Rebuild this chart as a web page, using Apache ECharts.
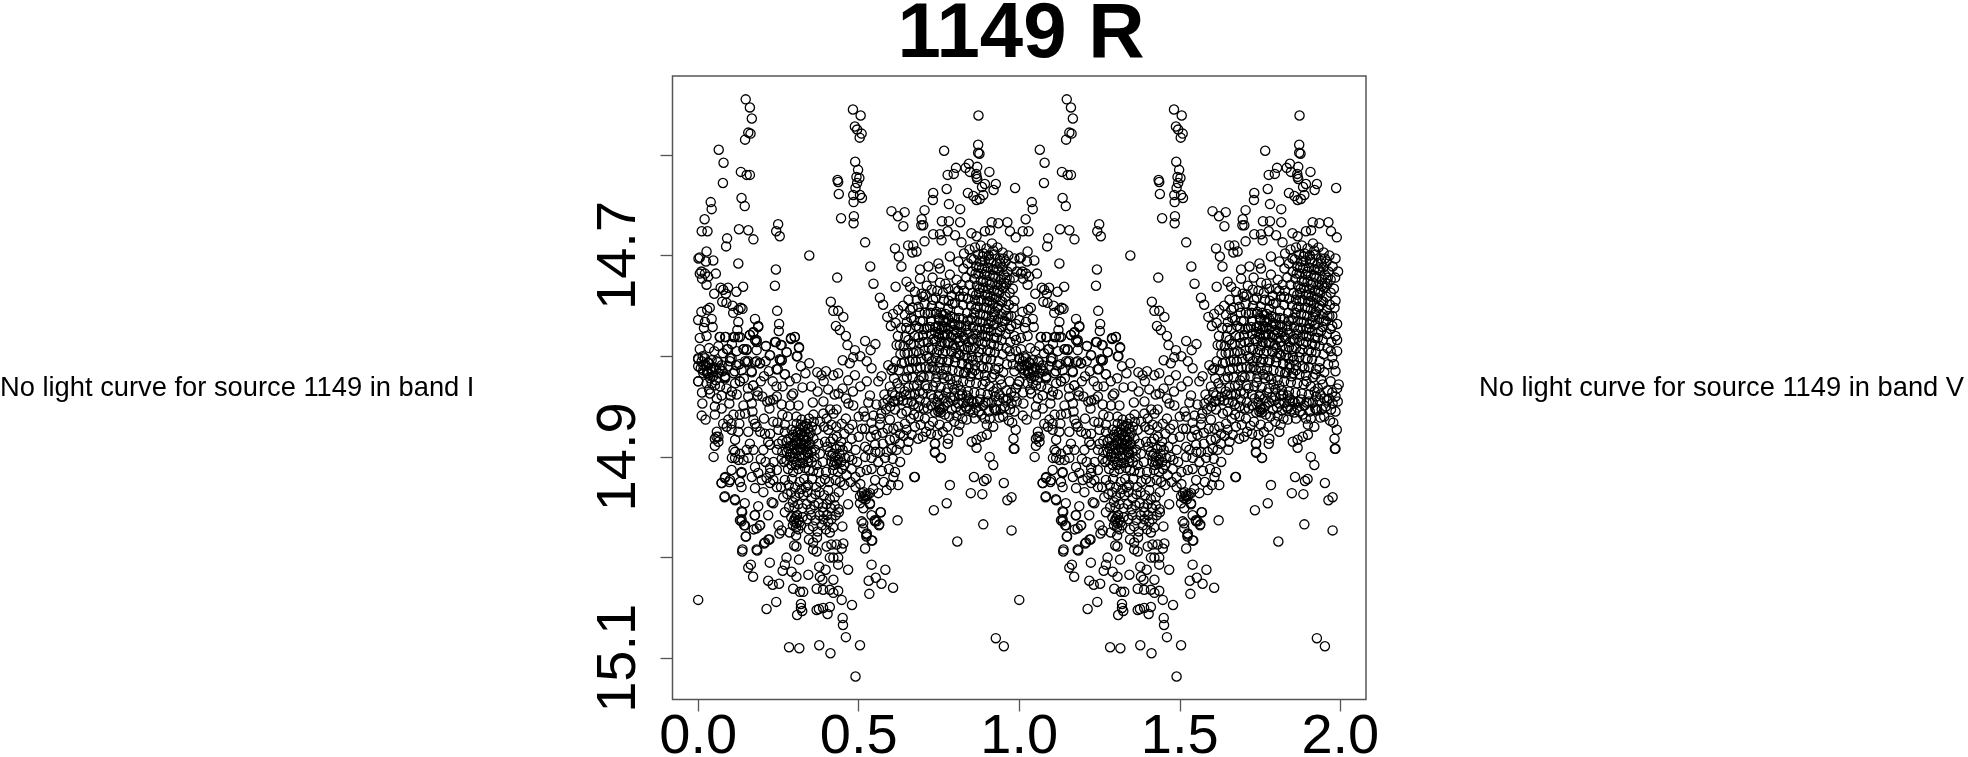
<!DOCTYPE html>
<html><head><meta charset="utf-8">
<style>html,body{margin:0;padding:0;background:#fff}#c{width:1968px;height:757px}</style>
<script src="https://cdn.jsdelivr.net/npm/echarts@6/dist/echarts.min.js"></script>
</head><body><div id="c"></div>
<script>
const titleText = "1149 R";
const noteI = "No light curve for source 1149 in band I";
const noteV = "No light curve for source 1149 in band V";
const xTicks = [0, 0.5, 1, 1.5, 2];
const yTicks = [14.6, 14.7, 14.8, 14.9, 15.0, 15.1];
const yLabels = [14.7, 14.9, 15.1];

// [phase, magnitude]; the plot shows phase 0-1 and again 1-2
const upperLeft = [[.148,14.545],[.161,14.553],[.167,14.564],[.163,14.579],[.156,14.578],[.146,14.585],[.064,14.595],[.079,14.608],[.077,14.628],[.133,14.617],[.151,14.620],[.161,14.620],[.135,14.643],[.145,14.651],[.039,14.647],[.042,14.654],[.020,14.664],[.011,14.676],[.029,14.676],[.127,14.674],[.156,14.675],[.172,14.684],[.090,14.683],[.087,14.691],[.249,14.669],[.243,14.676],[.254,14.681],[.482,14.555],[.506,14.561],[.488,14.572],[.495,14.575],[.509,14.579],[.503,14.583],[.489,14.607],[.498,14.615],[.493,14.622],[.502,14.623],[.495,14.628],[.490,14.633],[.434,14.625],[.436,14.627],[.438,14.639],[.483,14.640],[.504,14.640],[.510,14.643],[.484,14.647],[.445,14.663],[.485,14.661],[.484,14.668],[.520,14.687],[.346,14.700],[.242,14.714],[.239,14.730],[.433,14.722],[.536,14.711],[.546,14.728],[.566,14.742],[.576,14.749],[.125,14.708],[.005,14.702],[.001,14.703],[.026,14.696],[.047,14.705],[.024,14.706],[.010,14.716],[.005,14.718],[.021,14.718],[.031,14.721],[.012,14.723],[.026,14.729],[.055,14.718],[.050,14.738],[.070,14.732],[.093,14.732],[.078,14.734],[.086,14.738],[.140,14.731],[.119,14.736],[.075,14.746],[.088,14.747],[.107,14.750],[.132,14.752],[.138,14.753],[.036,14.752],[.028,14.754],[.010,14.756],[.109,14.757],[.125,14.754],[.000,14.764],[.042,14.763],[.021,14.766],[.045,14.771],[.018,14.772],[.125,14.766],[.177,14.763],[.187,14.770],[.246,14.755],[.252,14.768],[.251,14.775],[.122,14.774],[.005,14.782],[.026,14.780],[.067,14.781],[.086,14.781],[.114,14.781],[.130,14.781],[.171,14.777],[.182,14.784],[.161,14.779],[.242,14.786],[.289,14.783],[.301,14.781],[.314,14.792],[.309,14.800],[.260,14.789],[.275,14.796],[.260,14.804],[.254,14.803],[.211,14.790],[.223,14.799],[.142,14.793],[.151,14.794],[.093,14.793],[.413,14.746],[.421,14.755],[.436,14.755],[.452,14.761],[.429,14.770],[.441,14.774],[.460,14.780],[.465,14.789],[.537,14.794],[.552,14.788],[.488,14.794],[.483,14.801],[.472,14.807],[.450,14.804],[.346,14.807],[.334,14.817],[.371,14.816],[.384,14.819],[.398,14.815],[.391,14.825],[.421,14.819],[.436,14.817],[.467,14.824],[.488,14.819],[.592,14.809],[.571,14.820],[.561,14.825],[.607,14.812],[.602,14.814],[.244,14.830],[.263,14.830],[.325,14.831],[.296,14.837],[.171,14.829],[.000,14.825],[.028,14.817],[.042,14.827],[.083,14.821],[.114,14.815],[.166,14.815],[.130,14.825],[.000,14.803],[.005,14.793],[.016,14.809],[.031,14.806],[.062,14.806],[.099,14.802],[.151,14.806],[.177,14.806],[.192,14.807],[.244,14.813],[.270,14.818]];

const upperRight = [[.873,14.561],[.872,14.590],[.872,14.598],[.876,14.599],[.766,14.596],[.843,14.609],[.803,14.613],[.833,14.613],[.869,14.612],[.846,14.617],[.907,14.617],[.777,14.620],[.796,14.619],[.866,14.619],[.867,14.622],[.869,14.624],[.893,14.629],[.927,14.629],[.920,14.635],[.987,14.633],[.884,14.632],[.774,14.634],[.732,14.638],[.731,14.645],[.840,14.638],[.857,14.641],[.867,14.645],[.877,14.644],[.888,14.640],[.781,14.649],[.816,14.654],[.705,14.655],[.602,14.656],[.622,14.661],[.643,14.657],[.639,14.671],[.696,14.664],[.695,14.670],[.701,14.670],[.759,14.666],[.781,14.666],[.816,14.667],[.777,14.676],[.753,14.679],[.732,14.679],[.758,14.685],[.705,14.686],[.914,14.667],[.935,14.668],[.963,14.667],[.909,14.675],[.893,14.676],[.971,14.676],[.989,14.682],[.851,14.678],[.867,14.681],[.800,14.680],[.820,14.687],[.613,14.693],[.625,14.701],[.633,14.711],[.654,14.690],[.670,14.690],[.680,14.696],[.667,14.697],[.615,14.731],[.589,14.761],[.607,14.758],[.623,14.754],[.644,14.759],[.660,14.754],[.686,14.751],[.649,14.726],[.660,14.731],[.691,14.723],[.655,14.744],[.675,14.736],[.696,14.738],[.727,14.734],[.753,14.727],[.779,14.733],[.784,14.719],[.805,14.724],[.717,14.711],[.748,14.708],[.784,14.701],[.810,14.706],[.753,14.713],[.691,14.714]];

const core = [[.845,14.694],[.862,14.692],[.880,14.690],[.898,14.693],[.915,14.688],[.932,14.692],[.948,14.697],[.966,14.700],[.985,14.703],[.828,14.698],[.872,14.699],[.889,14.698],[.905,14.700],[.923,14.699],[.940,14.703],[.957,14.706],[.976,14.711],[.993,14.716],[.858,14.704],[.878,14.706],[.893,14.705],[.912,14.707],[.930,14.708],[.947,14.712],[.963,14.716],[.984,14.722],[.840,14.708],[.866,14.711],[.884,14.713],[.902,14.712],[.918,14.714],[.935,14.715],[.952,14.719],[.970,14.724],[.826,14.713],[.852,14.716],[.873,14.718],[.892,14.719],[.908,14.720],[.925,14.722],[.942,14.724],[.960,14.728],[.980,14.733],[.835,14.722],[.860,14.723],[.880,14.725],[.898,14.726],[.915,14.727],[.932,14.729],[.950,14.732],[.970,14.737],[.820,14.729],[.845,14.729],[.868,14.730],[.887,14.732],[.904,14.733],[.921,14.735],[.938,14.737],[.957,14.741],[.985,14.745],[.800,14.733],[.828,14.735],[.855,14.737],[.875,14.737],[.893,14.739],[.910,14.741],[.928,14.742],[.947,14.746],[.968,14.749],[.790,14.740],[.815,14.741],[.840,14.743],[.862,14.744],[.882,14.744],[.900,14.746],[.918,14.748],[.936,14.750],[.958,14.754],[.740,14.742],[.765,14.744],[.800,14.747],[.825,14.749],[.850,14.750],[.870,14.751],[.890,14.752],[.908,14.754],[.925,14.756],[.945,14.758],[.975,14.760],[.705,14.748],[.728,14.750],[.752,14.751],[.778,14.753],[.812,14.755],[.838,14.757],[.860,14.757],[.878,14.758],[.897,14.760],[.915,14.761],[.934,14.763],[.955,14.765],[.990,14.768],[.690,14.757],[.715,14.758],[.740,14.758],[.762,14.759],[.785,14.760],[.800,14.762],[.825,14.763],[.848,14.764],[.868,14.765],[.886,14.766],[.904,14.768],[.922,14.769],[.945,14.771],[.970,14.773],[.650,14.766],[.672,14.764],[.700,14.765],[.725,14.765],[.750,14.764],[.770,14.766],[.790,14.767],[.812,14.769],[.835,14.770],[.856,14.771],[.876,14.772],[.894,14.773],[.912,14.775],[.932,14.776],[.958,14.778],[.985,14.780],[.632,14.772],[.660,14.773],[.688,14.772],[.712,14.772],[.738,14.771],[.760,14.771],[.778,14.773],[.798,14.774],[.820,14.776],[.842,14.777],[.864,14.778],[.884,14.779],[.902,14.780],[.922,14.782],[.945,14.784],[.972,14.786],[.622,14.780],[.645,14.781],[.675,14.780],[.700,14.779],[.725,14.778],[.748,14.778],[.768,14.779],[.787,14.781],[.808,14.782],[.830,14.783],[.852,14.784],[.873,14.785],[.893,14.786],[.912,14.788],[.935,14.790],[.960,14.792],[.990,14.795],[.618,14.789],[.640,14.790],[.662,14.788],[.690,14.787],[.715,14.786],[.738,14.785],[.758,14.786],[.777,14.787],[.797,14.789],[.818,14.790],[.840,14.791],[.862,14.792],[.882,14.793],[.902,14.794],[.924,14.796],[.948,14.798],[.975,14.801],[.630,14.798],[.652,14.797],[.680,14.795],[.705,14.794],[.728,14.793],[.750,14.794],[.770,14.795],[.790,14.796],[.810,14.797],[.830,14.799],[.852,14.800],[.872,14.801],[.892,14.802],[.912,14.803],[.936,14.805],[.962,14.808],[.615,14.805],[.642,14.806],[.668,14.804],[.695,14.803],[.718,14.802],[.740,14.802],[.760,14.803],[.780,14.804],[.800,14.806],[.822,14.807],[.842,14.808],[.862,14.809],[.882,14.810],[.902,14.811],[.925,14.813],[.950,14.816],[.985,14.815],[.625,14.814],[.655,14.814],[.682,14.812],[.708,14.811],[.730,14.811],[.752,14.812],[.772,14.813],[.792,14.814],[.812,14.815],[.833,14.816],[.853,14.817],[.873,14.818],[.893,14.819],[.915,14.821],[.940,14.823],[.970,14.825],[.610,14.822],[.640,14.823],[.668,14.821],[.695,14.820],[.720,14.820],[.742,14.821],[.765,14.822],[.785,14.823],[.805,14.824],[.825,14.825],[.846,14.826],[.866,14.827],[.886,14.828],[.908,14.830],[.930,14.832],[.960,14.834],[.990,14.832],[.597,14.830],[.628,14.832],[.655,14.831],[.682,14.829],[.708,14.829],[.732,14.830],[.755,14.831],[.778,14.832],[.798,14.833],[.818,14.834],[.840,14.835],[.860,14.836],[.880,14.837],[.902,14.838],[.925,14.840],[.950,14.842],[.580,14.838],[.648,14.838],[.675,14.838],[.700,14.837],[.725,14.838],[.748,14.840],[.785,14.841],[.870,14.845],[.895,14.846],[.955,14.850],[.985,14.840]];

const coreBlobs = [[.742,14.756],[.751,14.762],[.746,14.770],[.757,14.757],[.764,14.764],[.771,14.758],[.755,14.774],[.768,14.771],[.779,14.763],[.786,14.770],[.776,14.778],[.762,14.779],[.749,14.781],[.738,14.776],[.792,14.761],[.799,14.769],[.806,14.776],[.793,14.779],[.782,14.786],[.768,14.787],[.754,14.790],[.812,14.762],[.819,14.771],[.826,14.781],[.813,14.786],[.801,14.792],[.788,14.795],[.835,14.774],[.843,14.786],[.829,14.793],[.815,14.799],[.801,14.801],[.850,14.793],[.838,14.802],[.822,14.808],[.855,14.804],[.842,14.812],[.828,14.817],[.862,14.814],[.848,14.820],[.851,14.703],[.886,14.701],[.919,14.695],[.952,14.703],[.875,14.712],[.907,14.704],[.941,14.708],[.864,14.718],[.897,14.716],[.930,14.713],[.961,14.722],[.887,14.726],[.920,14.720],[.953,14.727],[.876,14.733],[.909,14.729],[.943,14.730],[.866,14.739],[.901,14.739],[.933,14.735],[.873,14.745],[.907,14.745],[.941,14.745],[.864,14.753],[.898,14.752],[.932,14.752],[.853,14.762],[.888,14.759],[.922,14.759],[.960,14.760],[.840,14.765],[.879,14.766],[.913,14.765],[.948,14.765],[.869,14.774],[.904,14.772],[.940,14.775],[.857,14.783],[.895,14.780],[.930,14.782],[.885,14.788],[.921,14.789],[.873,14.796],[.910,14.796],[.898,14.803],[.935,14.812],[.888,14.812],[.923,14.818],[.895,14.825],[.945,14.828],[.970,14.795],[.966,14.760],[.975,14.770],[.982,14.752],[.990,14.784],[.980,14.808]];

const coreEdge = [[.668,14.752],[.681,14.744],[.700,14.741],[.712,14.730],[.732,14.744],[.724,14.757],[.706,14.757],[.692,14.765],[.679,14.770],[.663,14.762],[.648,14.772],[.655,14.784],[.671,14.788],[.686,14.781],[.704,14.773],[.722,14.771],[.733,14.783],[.718,14.792],[.702,14.786],[.688,14.797],[.671,14.797],[.658,14.805],[.643,14.797],[.628,14.789],[.634,14.807],[.650,14.821],[.665,14.812],[.678,14.805],[.693,14.811],[.712,14.800],[.728,14.805],[.744,14.796],[.762,14.797],[.776,14.806],[.752,14.806],[.738,14.814],[.720,14.812],[.702,14.821],[.688,14.824],[.672,14.829],[.660,14.838],[.643,14.835],[.620,14.827],[.604,14.836],[.590,14.843],[.611,14.845],[.630,14.840],[.690,14.835],[.714,14.832],[.740,14.826],[.760,14.818],[.776,14.820],[.792,14.828],[.810,14.829],[.772,14.836],[.752,14.838],[.733,14.842],[.798,14.840],[.822,14.838],[.843,14.842],[.858,14.846],[.878,14.843],[.902,14.845],[.920,14.835],[.938,14.838],[.965,14.842],[.975,14.836],[.995,14.828],[.615,14.767],[.600,14.770],[.638,14.750],[.770,14.728],[.730,14.722],[.762,14.737],[.792,14.748],[.810,14.735],[.825,14.741],[.780,14.745],[.745,14.735],[.708,14.739]];

const gapFill = [[.652,14.846],[.672,14.848],[.690,14.843],[.703,14.852],[.726,14.849],[.738,14.856],[.731,14.865],[.745,14.846],[.765,14.850],[.778,14.846],[.768,14.858],[.782,14.860],[.795,14.844],[.803,14.851],[.798,14.865],[.818,14.854],[.826,14.846],[.823,14.862],[.814,14.868],[.852,14.845],[.866,14.851],[.857,14.856],[.874,14.855],[.888,14.849],[.905,14.855],[.914,14.846],[.908,14.862],[.942,14.853],[.950,14.860],[.938,14.861],[.958,14.844],[.985,14.855],[.968,14.864],[.978,14.866],[.672,14.858],[.675,14.870],[.662,14.862],[.710,14.875],[.725,14.877],[.700,14.880],[.685,14.882],[.665,14.878],[.752,14.868],[.762,14.875],[.745,14.878]];

const midRight = [[.520,14.860],[.546,14.859],[.577,14.847],[.535,14.839],[.530,14.846],[.613,14.839],[.623,14.844],[.608,14.845],[.639,14.844],[.665,14.845],[.686,14.850],[.709,14.846],[.715,14.852],[.686,14.860],[.706,14.862],[.693,14.868],[.720,14.869],[.634,14.857],[.613,14.853],[.649,14.855],[.597,14.863],[.566,14.862],[.566,14.868],[.546,14.873],[.520,14.872],[.608,14.872],[.623,14.870],[.644,14.867],[.649,14.873],[.629,14.877],[.597,14.883],[.655,14.885],[.651,14.893],[.551,14.888],[.520,14.890],[.566,14.895],[.587,14.895],[.603,14.892],[.618,14.893],[.582,14.901],[.629,14.905],[.540,14.901],[.520,14.900],[.561,14.905],[.613,14.915],[.608,14.920],[.623,14.928],[.673,14.920],[.587,14.933],[.551,14.923],[.525,14.913],[.561,14.936],[.535,14.946],[.568,14.955],[.540,14.958],[.551,14.964],[.563,14.968],[.621,14.963],[.525,14.976],[.540,14.983],[.514,14.966],[.738,14.887],[.738,14.896],[.756,14.901],[.779,14.882],[.777,14.887],[.776,14.870],[.810,14.875],[.852,14.885],[.867,14.883],[.867,14.891],[.883,14.880],[.899,14.878],[.899,14.868],[.893,14.862],[.919,14.870],[.925,14.853],[.928,14.854],[.922,14.852],[.883,14.858],[.862,14.862],[.836,14.863],[.805,14.859],[.790,14.853],[.753,14.853],[.748,14.855],[.758,14.852],[.750,14.851],[.755,14.856],[.764,14.842],[.815,14.839],[.836,14.839],[.841,14.845],[.836,14.852],[.833,14.850],[.810,14.847],[.847,14.853],[.935,14.844],[.971,14.853],[.976,14.847],[.992,14.845],[.989,14.873],[.982,14.882],[.985,14.892],[.908,14.900],[.919,14.908],[.737,14.895],[.737,14.887],[.555,14.848],[.570,14.857],[.585,14.853],[.598,14.850],[.540,14.866],[.555,14.878],[.575,14.876],[.590,14.872],[.537,14.880],[.612,14.882],[.628,14.887],[.640,14.879],[.575,14.887],[.552,14.895],[.530,14.893],[.606,14.902],[.594,14.912],[.572,14.914],[.540,14.912],[.578,14.925],[.600,14.928],[.545,14.932]];

const lowerSparse = [[.000,15.042],[.213,15.051],[.243,15.044],[.320,15.046],[.320,15.050],[.324,15.053],[.308,15.057],[.369,15.052],[.376,15.051],[.389,15.050],[.410,15.049],[.403,15.056],[.447,15.042],[.479,15.047],[.450,15.060],[.451,15.067],[.460,15.079],[.504,15.087],[.377,15.087],[.412,15.095],[.283,15.089],[.315,15.090],[.490,15.118],[.927,15.080],[.952,15.088],[.807,14.984],[.888,14.967],[.976,14.973],[.734,14.953],[.774,14.946],[.849,14.936],[.885,14.937],[.859,14.920],[.890,14.924],[.898,14.922],[.952,14.926],[.963,14.943],[.976,14.940],[.784,14.928],[.756,14.901],[.983,14.892],[.675,14.920],[.449,14.969],[.467,14.947],[.607,15.030],[.571,15.026],[.583,15.012],[.553,15.020],[.531,15.023],[.533,15.036],[.540,15.007],[.542,14.983],[.520,14.991],[.524,14.977],[.524,14.979],[.514,14.971],[.509,14.964],[.556,14.964],[.564,14.967],[.550,14.963],[.569,14.955],[.504,14.946],[.514,14.951],[.535,14.947],[.519,14.938],[.524,14.939],[.535,14.936],[.514,14.941],[.504,14.939],[.510,14.936],[.522,14.942],[.516,14.935],[.528,14.937],[.048,14.900],[.052,14.889],[.057,14.880],[.073,14.926],[.083,14.921],[.097,14.925],[.083,14.939],[.114,14.942],[.145,14.946],[.104,14.913],[.135,14.916],[.137,14.994],[.184,14.993],[.208,14.985],[.222,14.982],[.148,14.979],[.135,14.962],[.143,14.968],[.176,14.958],[.173,14.972],[.192,14.968],[.137,14.955],[.156,15.010],[.164,15.007],[.171,15.019],[.218,15.023],[.232,15.027],[.252,15.026],[.223,15.005],[.263,15.013],[.275,15.000],[.270,15.007],[.291,15.014],[.306,15.019],[.296,15.031],[.317,15.034],[.327,15.034],[.343,15.017],[.369,15.031],[.389,15.032],[.410,15.032],[.421,15.035],[.436,15.033],[.421,15.022],[.379,15.019],[.387,15.022],[.397,15.012],[.377,15.009],[.467,15.012],[.410,15.000],[.436,15.007],[.306,14.989],[.299,14.988],[.314,15.002],[.358,14.992],[.369,14.994],[.400,14.989],[.415,14.987],[.431,14.987],[.452,14.986],[.447,14.991],[.421,15.000],[.436,15.000]];

const lowerLeft = [[.013,14.847],[.011,14.859],[.023,14.863],[.052,14.858],[.037,14.837],[.058,14.842],[.073,14.839],[.101,14.839],[.052,14.850],[.073,14.852],[.097,14.847],[.141,14.849],[.156,14.840],[.185,14.839],[.167,14.847],[.169,14.855],[.130,14.858],[.110,14.858],[.146,14.857],[.215,14.845],[.224,14.844],[.234,14.843],[.222,14.852],[.286,14.849],[.312,14.849],[.291,14.839],[.357,14.846],[.390,14.845],[.411,14.853],[.431,14.853],[.421,14.857],[.460,14.842],[.483,14.849],[.468,14.847],[.437,14.837],[.279,14.860],[.359,14.858],[.390,14.857],[.078,14.867],[.094,14.863],[.104,14.867],[.089,14.870],[.104,14.873],[.125,14.875],[.058,14.875],[.063,14.880],[.052,14.882],[.063,14.885],[.115,14.883],[.128,14.867],[.156,14.875],[.172,14.863],[.182,14.870],[.193,14.875],[.177,14.867],[.234,14.865],[.247,14.866],[.161,14.887],[.151,14.893],[.172,14.893],[.208,14.877],[.224,14.877],[.250,14.873],[.218,14.885],[.203,14.893],[.224,14.888],[.250,14.887],[.245,14.893],[.105,14.901],[.115,14.901],[.125,14.903],[.115,14.895],[.130,14.897],[.141,14.903],[.156,14.901],[.110,14.893],[.135,14.915],[.177,14.910],[.187,14.916],[.224,14.911],[.245,14.913],[.167,14.920],[.198,14.923],[.084,14.920],[.073,14.926],[.099,14.923],[.130,14.925],[.135,14.930],[.177,14.931],[.203,14.935],[.224,14.926],[.213,14.921],[.234,14.923],[.245,14.930],[.224,14.916],[.082,14.940],[.115,14.943],[.135,14.954],[.187,14.949],[.229,14.945],[.234,14.946],[.218,14.958],[.177,14.958],[.130,14.963],[.146,14.968],[.135,14.964],[.193,14.968],[.182,14.971],[.250,14.968],[.253,14.976],[.260,14.973],[.149,14.979],[.219,14.982],[.205,14.986],[.182,14.992],[.138,14.992],[.200,14.840],[.245,14.840],[.260,14.848],[.205,14.862],[.262,14.858],[.270,14.868],[.195,14.902],[.210,14.905],[.260,14.902],[.235,14.905]];

const leftBlock = [[.000,14.802],[.011,14.805],[.021,14.802],[.000,14.810],[.016,14.814],[.032,14.807],[.042,14.804],[.058,14.805],[.073,14.809],[.016,14.817],[.032,14.817],[.047,14.820],[.063,14.817],[.084,14.820],[.094,14.810],[.104,14.802],[.099,14.805],[.110,14.817],[.135,14.814],[.130,14.825],[.115,14.827],[.084,14.822],[.052,14.829],[.026,14.827],[.000,14.825],[.068,14.830],[.172,14.829],[.167,14.816],[.146,14.805],[.156,14.805],[.182,14.805],[.193,14.807],[.141,14.793],[.151,14.793],[.182,14.794],[.211,14.790],[.224,14.799],[.239,14.786],[.257,14.789],[.276,14.796],[.307,14.800],[.314,14.791],[.289,14.782],[.301,14.781],[.260,14.804],[.255,14.804],[.248,14.813],[.270,14.818],[.125,14.781],[.110,14.781],[.084,14.781],[.068,14.781],[.161,14.779],[.172,14.776],[.187,14.771],[.177,14.784],[.182,14.786],[.008,14.812],[.024,14.809],[.038,14.812],[.048,14.811],[.014,14.800],[.028,14.815],[.044,14.816],[.056,14.813],[.068,14.812],[.076,14.815],[.037,14.822],[.055,14.824],[.089,14.793],[.105,14.788],[.120,14.795],[.077,14.797],[.063,14.790],[.050,14.795],[.034,14.792],[.128,14.808],[.118,14.809],[.142,14.822],[.155,14.832],[.105,14.835],[.088,14.832],[.120,14.838],[.034,14.833],[.012,14.836],[.205,14.820],[.220,14.815],[.232,14.825],[.210,14.805],[.195,14.825],[.185,14.835],[.285,14.825],[.305,14.822],[.320,14.810],[.352,14.830],[.372,14.835],[.405,14.833],[.425,14.838],[.450,14.832],[.482,14.835],[.505,14.830],[.525,14.825],[.540,14.812],[.525,14.805],[.505,14.800],[.520,14.785]];

const clusterPhase3 = [[.270,14.875],[.281,14.882],[.291,14.873],[.307,14.867],[.322,14.863],[.338,14.867],[.354,14.870],[.369,14.873],[.281,14.892],[.296,14.888],[.312,14.882],[.322,14.877],[.333,14.875],[.343,14.880],[.359,14.882],[.374,14.887],[.286,14.900],[.302,14.897],[.317,14.892],[.328,14.888],[.338,14.890],[.348,14.888],[.364,14.893],[.379,14.897],[.291,14.908],[.307,14.905],[.322,14.901],[.333,14.898],[.343,14.901],[.354,14.905],[.369,14.908],[.328,14.883],[.317,14.873],[.338,14.895],[.307,14.887],[.333,14.911],[.325,14.870],[.332,14.869],[.342,14.872],[.330,14.880],[.337,14.884],[.345,14.886],[.320,14.887],[.326,14.893],[.333,14.891],[.342,14.896],[.315,14.899],[.325,14.906],[.340,14.905],[.318,14.878],[.300,14.880],[.310,14.893],[.298,14.902],[.350,14.876],[.352,14.895],[.362,14.900],[.276,14.895],[.268,14.905],[.262,14.884],[.345,14.913],[.312,14.912],[.296,14.915],[.280,14.912],[.358,14.914],[.375,14.915],[.392,14.870],[.405,14.873],[.395,14.885],[.388,14.905],[.275,14.885],[.288,14.889],[.295,14.878],[.303,14.874],[.286,14.897],[.294,14.896],[.304,14.884],[.300,14.892],[.310,14.876],[.305,14.908],[.318,14.906],[.275,14.903],[.262,14.895],[.320,14.868],[.306,14.860],[.345,14.862],[.360,14.865],[.380,14.865]];

const clusterPhase4 = [[.402,14.890],[.412,14.885],[.420,14.882],[.432,14.880],[.445,14.885],[.455,14.877],[.470,14.872],[.410,14.895],[.420,14.897],[.430,14.892],[.440,14.897],[.450,14.893],[.465,14.890],[.478,14.882],[.415,14.905],[.425,14.904],[.432,14.907],[.445,14.905],[.458,14.901],[.470,14.900],[.490,14.893],[.420,14.913],[.435,14.915],[.448,14.912],[.462,14.918],[.478,14.912],[.495,14.905],[.428,14.923],[.442,14.925],[.455,14.928],[.475,14.925],[.490,14.920],[.505,14.915],[.505,14.927],[.490,14.930],[.480,14.903],[.500,14.880],[.510,14.872],[.400,14.862],[.415,14.868],[.430,14.870],[.447,14.867],[.460,14.862],[.480,14.868],[.500,14.860],[.515,14.855],[.415,14.899],[.426,14.900],[.436,14.903],[.422,14.908],[.442,14.890],[.455,14.908],[.398,14.915],[.408,14.925]];

const clusterPhase35 = [[.258,14.930],[.270,14.923],[.282,14.928],[.292,14.922],[.302,14.930],[.316,14.925],[.330,14.922],[.342,14.928],[.355,14.922],[.368,14.930],[.380,14.925],[.395,14.922],[.405,14.933],[.265,14.940],[.278,14.937],[.290,14.935],[.302,14.940],[.315,14.936],[.328,14.938],[.340,14.935],[.353,14.941],[.365,14.937],[.378,14.935],[.392,14.938],[.410,14.942],[.425,14.940],[.438,14.935],[.300,14.950],[.312,14.947],[.325,14.951],[.338,14.947],[.350,14.952],[.362,14.948],[.375,14.946],[.388,14.950],[.400,14.947],[.413,14.951],[.425,14.948],[.437,14.952],[.290,14.960],[.300,14.962],[.308,14.958],[.316,14.965],[.325,14.960],[.340,14.962],[.352,14.958],[.365,14.963],[.378,14.958],[.390,14.962],[.402,14.958],[.415,14.962],[.428,14.958],[.438,14.955],[.295,14.968],[.305,14.970],[.312,14.972],[.320,14.968],[.345,14.972],[.358,14.969],[.372,14.974],[.385,14.968],[.398,14.972],[.345,14.982],[.358,14.985],[.370,14.980],[.305,14.978],[.285,14.975],[.298,14.964],[.306,14.966],[.304,14.960],[.312,14.963],[.322,14.932],[.335,14.930],[.295,14.945],[.283,14.950],[.270,14.955],[.390,14.955],[.405,14.965],[.420,14.970],[.410,14.975]];

const points = [...upperLeft, ...upperRight, ...core, ...coreBlobs, ...coreEdge, ...gapFill, ...midRight, ...lowerSparse, ...lowerLeft, ...leftBlock, ...clusterPhase3, ...clusterPhase4, ...clusterPhase35];
const seriesData = points.concat(points.map(p => [p[0] + 1, p[1]]));

const chart = echarts.init(document.getElementById('c'), null, {renderer:'canvas'});
const FONT = '"Liberation Sans", Arial, sans-serif';
chart.setOption({
  animation:false,
  backgroundColor:'#fff',
  title:[
    {text:titleText,left:1021,top:-4,padding:0,textAlign:'center',textStyle:{fontFamily:FONT,fontWeight:'bold',fontSize:78,color:'#000'}},
    {text:noteI,left:0,top:374.5,padding:0,textStyle:{fontFamily:FONT,fontWeight:'normal',fontSize:27.3,color:'#000'}},
    {text:noteV,left:1479,top:374.5,padding:0,textStyle:{fontFamily:FONT,fontWeight:'normal',fontSize:27.3,color:'#000'}}
  ],
  grid:{left:672.5,top:76,width:693.5,height:623.5,outerBoundsMode:'none',show:true,borderColor:'#555',borderWidth:1.5,backgroundColor:'transparent'},
  xAxis:{type:'value',min:-0.08,max:2.08,splitLine:{show:false},axisLine:{show:false,onZero:false},
    axisTick:{show:true,length:12,customValues:xTicks,lineStyle:{color:'#555',width:1.3}},
    axisLabel:{customValues:xTicks,margin:10,formatter:v=>v.toFixed(1),fontFamily:FONT,fontSize:56,color:'#000'}},
  yAxis:{type:'value',inverse:true,min:14.5218,max:15.1409,splitLine:{show:false},axisLine:{show:false,onZero:false},
    axisTick:{show:true,length:12,customValues:yTicks,lineStyle:{color:'#555',width:1.3}},
    axisLabel:{customValues:yLabels,rotate:90,margin:25,formatter:v=>v.toFixed(1),fontFamily:FONT,fontSize:56,color:'#000'}},
  series:[{type:'scatter',data:seriesData,symbol:'circle',symbolSize:9.2,clip:false,silent:true,
    itemStyle:{color:'rgba(0,0,0,0)',borderColor:'#000',borderWidth:1.3,opacity:1}}]
});
</script></body></html>
